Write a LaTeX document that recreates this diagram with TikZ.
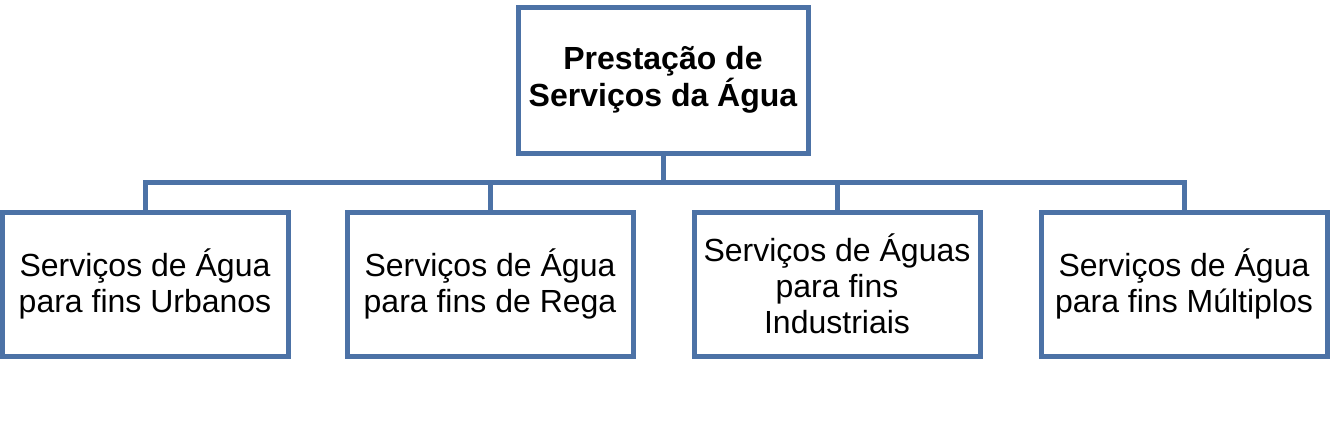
\documentclass[tikz,border=0pt]{standalone}
\usepackage{fontspec}
\setmainfont{Liberation Sans}
\usepackage{xcolor}
\usepackage{tikz}
\usetikzlibrary{positioning,calc}
\definecolor{boxblue}{RGB}{76,114,166}

\begin{document}
\begin{tikzpicture}[
    x=0.5pt, y=-0.5pt,
    top/.style={rectangle, draw=boxblue, fill=white, line width=2.5pt, align=center, minimum height=73pt, minimum width=145pt, inner sep=0pt, font=\fontsize{16}{18.5}\selectfont\bfseries},
    sub/.style={rectangle, draw=boxblue, fill=white, line width=2.5pt, align=center, minimum height=72pt, minimum width=143pt, inner sep=0pt, font=\fontsize{16}{18}\selectfont},
    link/.style={draw=boxblue, line width=2.5pt}
]
    \useasboundingbox (0,0) rectangle (1344,429);
    \node [top] (n0) at (663,80) {Presta\c{c}\~ao de\\Servi\c{c}os da \'Agua};
    \node [sub] (n1) at (145,284) {Servi\c{c}os de \'Agua\\para fins Urbanos};
    \node [sub] (n2) at (490,284) {Servi\c{c}os de \'Agua\\para fins de Rega};
    \node [sub] (n3) at (837,284) {Servi\c{c}os de \'Aguas\\para fins\\Industriais};
    \node [sub] (n4) at (1184,284) {Servi\c{c}os de \'Agua\\para fins M\'ultiplos};

    \coordinate (bus) at (663,182);
    \draw [link] (n0) -- (bus);
    \foreach \c in {n1,n2,n3,n4}
        \draw [link] (bus) -| (\c.north);
\end{tikzpicture}
\end{document}
